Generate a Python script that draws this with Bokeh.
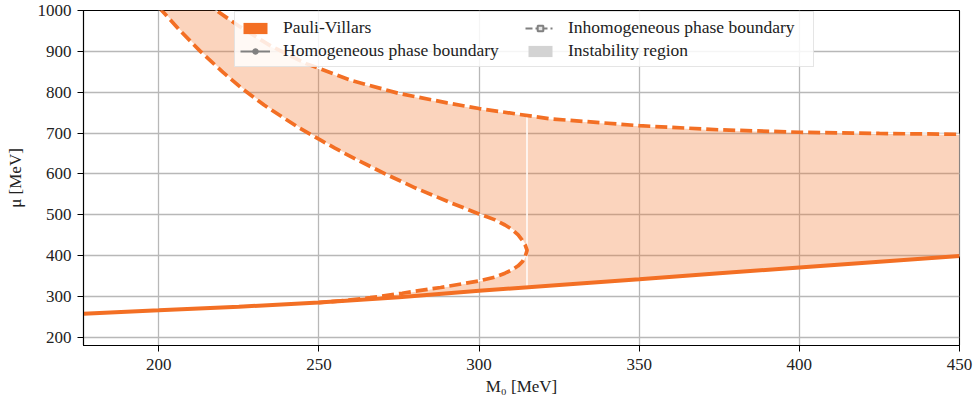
import numpy as np
from bokeh.plotting import figure
from bokeh.models import Range1d, Legend, LegendItem, FixedTicker
from bokeh.embed import file_html
from bokeh.resources import INLINE

# Homogeneous phase boundary (Pauli-Villars regularisation)
homog_m0 = [176.5, 200, 225, 250, 275, 300, 325, 350, 375, 400, 425, 450]
homog_mu = [258, 266, 275, 285, 298, 314, 328, 342, 357, 371, 385, 399]

# Inner inhomogeneous boundary: upper branch, down to the turning point
inhom_upper_m0 = [200, 207, 213, 220, 226, 233, 239, 244, 250, 255, 262, 271, 280, 291, 300, 305, 308.1, 310.3, 312.2, 313.4, 314.4, 315]
inhom_upper_mu = [1008, 948, 900, 849, 809, 768, 737, 712, 685, 663, 634, 599, 566, 530, 502, 487.5, 475, 464, 451, 438.5, 426, 413]

# Inner inhomogeneous boundary: lower branch, from the turning point to the homogeneous line
inhom_lower_m0 = [315, 314.4, 313.6, 312.2, 310.3, 308.1, 305, 300, 288, 276, 266, 258, 250]
inhom_lower_mu = [413, 398, 386, 375, 365, 357, 347.5, 338, 322, 308, 297, 290, 285]

# Outer inhomogeneous boundary
inhom_outer_m0 = [214, 218, 225, 235, 246, 260, 275, 290, 300, 322, 350, 375, 400, 425, 450]
inhom_outer_mu = [1020, 1000, 962, 913, 870, 829, 797, 774, 760, 735, 718, 708, 702, 699, 697]

x_ticks = [200, 250, 300, 350, 400, 450]
y_ticks = [200, 300, 400, 500, 600, 700, 800, 900, 1000]

ORANGE = "#f36f24"
GREY = "#808080"
FONT = '"Liberation Serif", serif'

hm, hu = np.array(homog_m0, float), np.array(homog_mu, float)
om, ou = np.array(inhom_outer_m0, float), np.array(inhom_outer_mu, float)

seam_x = inhom_upper_m0[-1]
merge_x = inhom_lower_m0[-1]
outer_at_seam = float(np.interp(seam_x, om, ou))
homog_at_seam = float(np.interp(seam_x, hm, hu))

# region between the outer curve and the upper branch
left_o = om < seam_x
poly_a_x = list(inhom_upper_m0) + [seam_x] + list(om[left_o][::-1])
poly_a_y = list(inhom_upper_mu) + [outer_at_seam] + list(ou[left_o][::-1])

# region between the lower branch and the homogeneous line
mid_h = (hm > merge_x) & (hm < seam_x)
poly_b_x = list(inhom_lower_m0) + list(hm[mid_h]) + [seam_x]
poly_b_y = list(inhom_lower_mu) + list(hu[mid_h]) + [homog_at_seam]

# region right of the turning point, between homogeneous line and outer curve
right_h = hm > seam_x
right_o = om > seam_x
poly_c_x = [seam_x] + list(hm[right_h]) + list(om[right_o][::-1]) + [seam_x]
poly_c_y = [homog_at_seam] + list(hu[right_h]) + list(ou[right_o][::-1]) + [outer_at_seam]

p = figure(
    width=979, height=399,
    x_range=Range1d(176.5, 450), y_range=Range1d(180, 1000),
    output_backend="svg", toolbar_location=None,
    min_border_left=83, min_border_right=20, min_border_top=10, min_border_bottom=54,
    background_fill_color="white", border_fill_color="white",
)
p.outline_line_color = "black"
p.outline_line_width = 1.1

p.xaxis.ticker = FixedTicker(ticks=x_ticks)
p.yaxis.ticker = FixedTicker(ticks=y_ticks)
for ax in (p.xaxis, p.yaxis):
    ax.axis_line_color = "black"
    ax.axis_line_width = 1.1
    ax.major_tick_line_color = "black"
    ax.major_tick_out = 6
    ax.major_tick_in = 0
    ax.minor_tick_line_color = None
    ax.major_label_text_font = FONT
    ax.major_label_text_font_size = "17px"
    ax.major_label_text_color = "#222222"
    ax.axis_label_text_font = FONT
    ax.axis_label_text_font_size = "17px"
    ax.axis_label_text_font_style = "normal"
    ax.axis_label_text_color = "#222222"
p.xaxis.major_label_standoff = 7
p.yaxis.major_label_standoff = 6
p.xaxis.axis_label = "M₀ [MeV]"
p.yaxis.axis_label = "μ [MeV]"
p.xaxis.axis_label_standoff = 4
p.yaxis.axis_label_standoff = 10

p.grid.grid_line_color = "#b8b8b8"
p.grid.grid_line_width = 1.3

# instability region
p.patches(xs=[poly_a_x, poly_b_x, poly_c_x], ys=[poly_a_y, poly_b_y, poly_c_y],
          fill_color=ORANGE, fill_alpha=0.3, line_color="white", line_width=1.2)

# phase boundaries
p.line(homog_m0, homog_mu, line_color=ORANGE, line_width=4)
inner_m0 = inhom_upper_m0 + inhom_lower_m0[1:]
inner_mu = inhom_upper_mu + inhom_lower_mu[1:]
p.line(inner_m0, inner_mu, line_color=ORANGE, line_width=3.7, line_dash="12 5")
p.line(inhom_outer_m0, inhom_outer_mu, line_color=ORANGE, line_width=3.7, line_dash="12 5")

# legend entries (single NaN point: nothing drawn in the plot area)
nan = [float("nan")]
pv_r = p.patch(x=nan, y=nan, fill_color=ORANGE, line_color=None)
hom_line = p.line(x=nan, y=nan, line_color=GREY, line_width=2)
hom_pt = p.scatter(x=nan, y=nan, marker="circle", size=5, fill_color=GREY, line_color=GREY)
inh_line = p.line(x=nan, y=nan, line_color=GREY, line_width=2, line_dash="7 3 2 3")
inh_pt = p.scatter(x=nan, y=nan, marker="square", size=9, fill_color="#e6e6e6", line_color=GREY, line_width=2)
ins_r = p.patch(x=nan, y=nan, fill_color="#d3d3d3", line_color=None)

legend = Legend(
    items=[
        LegendItem(label="Pauli-Villars", renderers=[pv_r]),
        LegendItem(label="Homogeneous phase boundary", renderers=[hom_line, hom_pt]),
        LegendItem(label="Inhomogeneous phase boundary", renderers=[inh_line, inh_pt]),
        LegendItem(label="Instability region", renderers=[ins_r]),
    ],
    location=(151, 278),
    ncols=2,
    label_text_font=FONT,
    label_text_font_size="17.5px",
    label_text_color="#222222",
    label_standoff=13,
    label_width=240,
    label_height=18,
    glyph_width=30,
    glyph_height=14,
    spacing=2,
    padding=5,
    margin=0,
    border_line_color="#cccccc",
    border_line_width=1,
    background_fill_color="white",
    background_fill_alpha=0.85,
)
p.add_layout(legend)

open("out.html", "w").write(file_html(p, INLINE))
